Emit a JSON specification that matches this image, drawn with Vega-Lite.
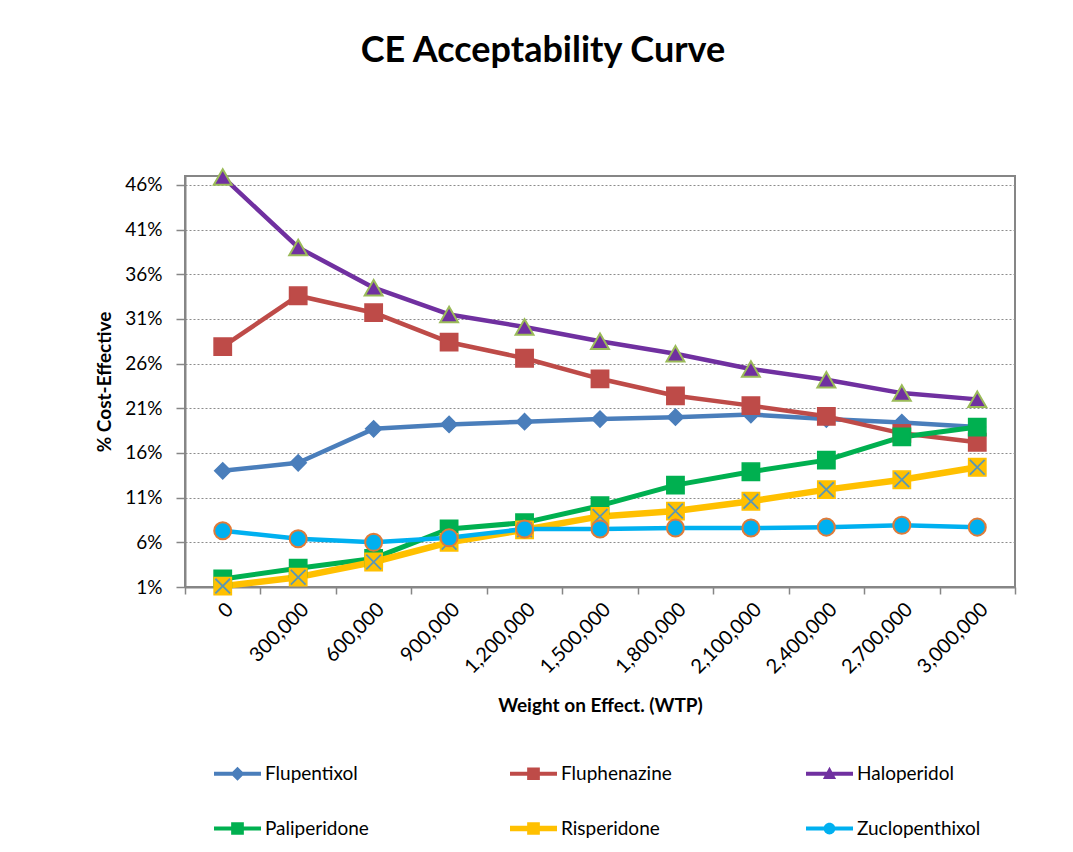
{
  "$schema": "https://vega.github.io/schema/vega-lite/v6.json",
  "width": 830,
  "height": 411,
  "autosize": {"type": "none"},
  "padding": {"left": 185, "top": 176, "right": 58, "bottom": 265},
  "background": "white",
  "title": {
    "text": "CE Acceptability Curve",
    "font": "Lato",
    "fontSize": 36,
    "fontWeight": "bold",
    "color": "black",
    "anchor": "middle",
    "dx": -57,
    "offset": 95
  },
  "config": {
    "font": "Lato",
    "view": {"stroke": "#868686", "strokeWidth": 2},
    "axis": {
      "labelFont": "Lato",
      "labelFontSize": 19,
      "labelColor": "black",
      "titleFont": "Lato",
      "titleFontSize": 19,
      "titleFontWeight": "bold",
      "titleColor": "black",
      "domainColor": "#868686",
      "domainWidth": 2,
      "tickColor": "#868686",
      "tickWidth": 1.5
    },
    "legend": {
      "labelFont": "Lato",
      "labelFontSize": 19,
      "labelColor": "black"
    }
  },
  "data": {
    "values": [
      {"drug": "Flupentixol", "wtp": 0, "ce": 0.140},
      {"drug": "Flupentixol", "wtp": 300000, "ce": 0.149},
      {"drug": "Flupentixol", "wtp": 600000, "ce": 0.187},
      {"drug": "Flupentixol", "wtp": 900000, "ce": 0.192},
      {"drug": "Flupentixol", "wtp": 1200000, "ce": 0.195},
      {"drug": "Flupentixol", "wtp": 1500000, "ce": 0.198},
      {"drug": "Flupentixol", "wtp": 1800000, "ce": 0.200},
      {"drug": "Flupentixol", "wtp": 2100000, "ce": 0.203},
      {"drug": "Flupentixol", "wtp": 2400000, "ce": 0.198},
      {"drug": "Flupentixol", "wtp": 2700000, "ce": 0.194},
      {"drug": "Flupentixol", "wtp": 3000000, "ce": 0.189},
      {"drug": "Fluphenazine", "wtp": 0, "ce": 0.279},
      {"drug": "Fluphenazine", "wtp": 300000, "ce": 0.336},
      {"drug": "Fluphenazine", "wtp": 600000, "ce": 0.317},
      {"drug": "Fluphenazine", "wtp": 900000, "ce": 0.284},
      {"drug": "Fluphenazine", "wtp": 1200000, "ce": 0.266},
      {"drug": "Fluphenazine", "wtp": 1500000, "ce": 0.243},
      {"drug": "Fluphenazine", "wtp": 1800000, "ce": 0.224},
      {"drug": "Fluphenazine", "wtp": 2100000, "ce": 0.213},
      {"drug": "Fluphenazine", "wtp": 2400000, "ce": 0.201},
      {"drug": "Fluphenazine", "wtp": 2700000, "ce": 0.182},
      {"drug": "Fluphenazine", "wtp": 3000000, "ce": 0.172},
      {"drug": "Haloperidol", "wtp": 0, "ce": 0.469},
      {"drug": "Haloperidol", "wtp": 300000, "ce": 0.390},
      {"drug": "Haloperidol", "wtp": 600000, "ce": 0.345},
      {"drug": "Haloperidol", "wtp": 900000, "ce": 0.315},
      {"drug": "Haloperidol", "wtp": 1200000, "ce": 0.301},
      {"drug": "Haloperidol", "wtp": 1500000, "ce": 0.285},
      {"drug": "Haloperidol", "wtp": 1800000, "ce": 0.271},
      {"drug": "Haloperidol", "wtp": 2100000, "ce": 0.254},
      {"drug": "Haloperidol", "wtp": 2400000, "ce": 0.242},
      {"drug": "Haloperidol", "wtp": 2700000, "ce": 0.227},
      {"drug": "Haloperidol", "wtp": 3000000, "ce": 0.220},
      {"drug": "Paliperidone", "wtp": 0, "ce": 0.019},
      {"drug": "Paliperidone", "wtp": 300000, "ce": 0.031},
      {"drug": "Paliperidone", "wtp": 600000, "ce": 0.042},
      {"drug": "Paliperidone", "wtp": 900000, "ce": 0.075},
      {"drug": "Paliperidone", "wtp": 1200000, "ce": 0.082},
      {"drug": "Paliperidone", "wtp": 1500000, "ce": 0.101},
      {"drug": "Paliperidone", "wtp": 1800000, "ce": 0.124},
      {"drug": "Paliperidone", "wtp": 2100000, "ce": 0.139},
      {"drug": "Paliperidone", "wtp": 2400000, "ce": 0.152},
      {"drug": "Paliperidone", "wtp": 2700000, "ce": 0.178},
      {"drug": "Paliperidone", "wtp": 3000000, "ce": 0.189},
      {"drug": "Risperidone", "wtp": 0, "ce": 0.011},
      {"drug": "Risperidone", "wtp": 300000, "ce": 0.021},
      {"drug": "Risperidone", "wtp": 600000, "ce": 0.038},
      {"drug": "Risperidone", "wtp": 900000, "ce": 0.060},
      {"drug": "Risperidone", "wtp": 1200000, "ce": 0.074},
      {"drug": "Risperidone", "wtp": 1500000, "ce": 0.089},
      {"drug": "Risperidone", "wtp": 1800000, "ce": 0.095},
      {"drug": "Risperidone", "wtp": 2100000, "ce": 0.106},
      {"drug": "Risperidone", "wtp": 2400000, "ce": 0.119},
      {"drug": "Risperidone", "wtp": 2700000, "ce": 0.130},
      {"drug": "Risperidone", "wtp": 3000000, "ce": 0.144},
      {"drug": "Zuclopenthixol", "wtp": 0, "ce": 0.073},
      {"drug": "Zuclopenthixol", "wtp": 300000, "ce": 0.064},
      {"drug": "Zuclopenthixol", "wtp": 600000, "ce": 0.060},
      {"drug": "Zuclopenthixol", "wtp": 900000, "ce": 0.065},
      {"drug": "Zuclopenthixol", "wtp": 1200000, "ce": 0.075},
      {"drug": "Zuclopenthixol", "wtp": 1500000, "ce": 0.075},
      {"drug": "Zuclopenthixol", "wtp": 1800000, "ce": 0.076},
      {"drug": "Zuclopenthixol", "wtp": 2100000, "ce": 0.076},
      {"drug": "Zuclopenthixol", "wtp": 2400000, "ce": 0.077},
      {"drug": "Zuclopenthixol", "wtp": 2700000, "ce": 0.079},
      {"drug": "Zuclopenthixol", "wtp": 3000000, "ce": 0.077}
    ]
  },
  "encoding": {
    "x": {
      "field": "wtp",
      "type": "ordinal",
      "scale": {"type": "band", "paddingInner": 0, "paddingOuter": 0},
      "axis": {
        "title": "Weight on Effect. (WTP)",
        "format": ",",
        "formatType": "number",
        "labelAngle": -45,
        "labelFontSize": 20,
        "tickBand": "extent",
        "tickSize": 7,
        "labelPadding": 5,
        "titlePadding": 20,
        "grid": false
      }
    },
    "y": {
      "field": "ce",
      "type": "quantitative",
      "scale": {"domain": [0.01, 0.47], "nice": false, "zero": false},
      "axis": {
        "title": "% Cost-Effective",
        "values": [0.01, 0.06, 0.11, 0.16, 0.21, 0.26, 0.31, 0.36, 0.41, 0.46],
        "format": ".0%",
        "tickSize": 9,
        "labelPadding": 14,
        "titlePadding": 10,
        "grid": true,
        "gridColor": "#8c8c8c",
        "gridDash": [2, 2],
        "gridWidth": 1
      }
    }
  },
  "layer": [
    {
      "transform": [{"filter": "datum.drug === 'Flupentixol' || datum.drug === 'Fluphenazine' || datum.drug === 'Haloperidol'"}],
      "mark": {"type": "line", "strokeWidth": 4.5, "strokeCap": "round", "strokeJoin": "round"},
      "encoding": {
        "color": {
          "field": "drug",
          "type": "nominal",
          "scale": {
            "domain": ["Flupentixol", "Fluphenazine", "Haloperidol", "Paliperidone", "Risperidone", "Zuclopenthixol"],
            "range": ["#4A7EBB", "#BE4B48", "#7030A0", "#00B050", "#FFC000", "#00B0F0"]
          },
          "legend": {
            "title": null,
            "orient": "none",
            "legendX": 29,
            "legendY": 574,
            "direction": "horizontal",
            "columns": 3,
            "gridAlign": "all",
            "columnPadding": 121,
            "rowPadding": 21,
            "symbolSize": 2209,
            "labelOffset": 4,
            "encode": {
              "symbols": {
                "update": {
                  "shape": {
                    "signal": "datum.value === 'Flupentixol' ? 'M-1,-0.085H1V0.085H-1Z M0,-0.3L0.3,0L0,0.3L-0.3,0Z' : datum.value === 'Fluphenazine' || datum.value === 'Paliperidone' ? 'M-1,-0.085H1V0.085H-1Z M-0.27,-0.27H0.27V0.27H-0.27Z' : datum.value === 'Haloperidol' ? 'M-1,-0.085H1V0.085H-1Z M0,-0.3L0.28,0.22H-0.28Z' : datum.value === 'Risperidone' ? 'M-1,-0.12H1V0.12H-1Z M-0.27,-0.27H0.27V0.27H-0.27Z' : 'M-1,-0.085H1V0.085H-1Z M-0.25,0A0.25,0.25,0,1,1,0.25,0A0.25,0.25,0,1,1,-0.25,0Z'"
                  },
                  "fill": {"scale": "color", "field": "value"},
                  "stroke": {"value": "transparent"},
                  "strokeWidth": {"value": 0}
                }
              }
            }
          }
        }
      }
    },
    {
      "transform": [{"filter": "datum.drug === 'Paliperidone'"}],
      "mark": {"type": "line", "strokeWidth": 5, "strokeCap": "round", "strokeJoin": "round"},
      "encoding": {"color": {"field": "drug", "type": "nominal"}}
    },
    {
      "transform": [{"filter": "datum.drug === 'Risperidone'"}],
      "mark": {"type": "line", "strokeWidth": 6.5, "strokeCap": "round", "strokeJoin": "round"},
      "encoding": {"color": {"field": "drug", "type": "nominal"}}
    },
    {
      "transform": [{"filter": "datum.drug === 'Zuclopenthixol'"}],
      "mark": {"type": "line", "strokeWidth": 4.5, "strokeCap": "round", "strokeJoin": "round"},
      "encoding": {"color": {"field": "drug", "type": "nominal"}}
    },
    {
      "transform": [{"filter": "datum.drug === 'Flupentixol'"}],
      "mark": {"type": "point", "shape": "diamond", "filled": true, "opacity": 1, "fill": "#4A7EBB", "stroke": "#4A7EBB", "strokeWidth": 1.5, "size": 260},
      "encoding": {}
    },
    {
      "transform": [{"filter": "datum.drug === 'Fluphenazine'"}],
      "mark": {"type": "point", "shape": "square", "filled": true, "opacity": 1, "fill": "#BE4B48", "stroke": "#BE4B48", "strokeWidth": 1.5, "size": 300},
      "encoding": {}
    },
    {
      "transform": [{"filter": "datum.drug === 'Haloperidol'"}],
      "mark": {"type": "point", "shape": "triangle-up", "filled": true, "opacity": 1, "fill": "#7030A0", "stroke": "#9BBB59", "strokeWidth": 2, "size": 320},
      "encoding": {}
    },
    {
      "transform": [{"filter": "datum.drug === 'Paliperidone'"}],
      "mark": {"type": "point", "shape": "square", "filled": true, "opacity": 1, "fill": "#00B050", "stroke": "#00B050", "strokeWidth": 1.5, "size": 300},
      "encoding": {}
    },
    {
      "transform": [{"filter": "datum.drug === 'Risperidone'"}],
      "mark": {"type": "point", "shape": "square", "filled": true, "opacity": 1, "fill": "#FFC000", "stroke": "#FFC000", "strokeWidth": 1.5, "size": 300},
      "encoding": {}
    },
    {
      "transform": [{"filter": "datum.drug === 'Risperidone'"}],
      "mark": {"type": "point", "shape": "M-0.85,-0.85L0.85,0.85M0.85,-0.85L-0.85,0.85", "filled": false, "opacity": 1, "color": "#5B97B5", "strokeWidth": 1.8, "size": 300},
      "encoding": {}
    },
    {
      "transform": [{"filter": "datum.drug === 'Zuclopenthixol'"}],
      "mark": {"type": "point", "shape": "circle", "filled": true, "opacity": 1, "fill": "#00B0F0", "stroke": "#E07B39", "strokeWidth": 2, "size": 290},
      "encoding": {}
    }
  ]
}
